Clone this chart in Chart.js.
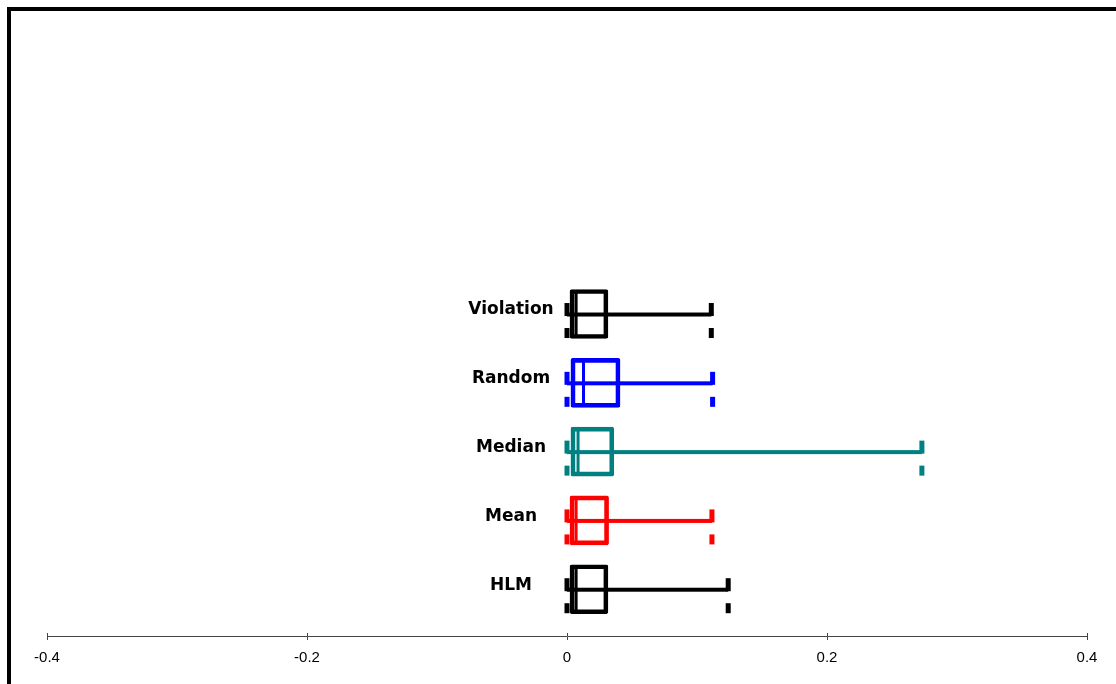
<!DOCTYPE html>
<html>
<head>
<meta charset="utf-8">
<script src="https://cdn.jsdelivr.net/npm/chart.js@4/dist/chart.umd.min.js"></script>
<style>
html,body{margin:0;padding:0;background:#fff;}
#wrap{position:relative;width:1116px;height:684px;}
</style>
</head>
<body>
<div id="wrap"><canvas id="c" width="1116" height="684"></canvas></div>
<script>
// ---- data (bottom to top) ----
const categories = ['HLM', 'Mean', 'Median', 'Random', 'Violation'];
const mins    = [0, 0, 0, 0, 0];
const q1s     = [0.0023, 0.0023, 0.003, 0.003, 0.0023];
const medians = [0.007, 0.007, 0.0085, 0.0127, 0.007];
const q3s     = [0.0315, 0.032, 0.036, 0.0408, 0.0315];
const maxs    = [0.124, 0.1115, 0.273, 0.112, 0.111];
const xTicks  = [-0.4, -0.2, 0, 0.2, 0.4];
const colors  = ['#000000', '#ff0000', '#008080', '#0000ff', '#000000'];

const boxPlugin = {
  id: 'boxExtras',
  beforeDraw(chart) {
    const ctx = chart.ctx;
    ctx.save();
    ctx.fillStyle = '#fff';
    ctx.fillRect(0, 0, chart.width, chart.height);
    ctx.fillStyle = '#000';
    ctx.fillRect(7, 7, chart.width - 7, 4);
    ctx.fillRect(7, 7, 4, chart.height - 7);
    ctx.restore();
  },
  afterDatasetsDraw(chart) {
    const ctx = chart.ctx;
    const xs = chart.scales.x, ys = chart.scales.y;
    ctx.save();
    // upper half of x tick marks
    ctx.strokeStyle = '#444';
    ctx.lineWidth = 1;
    const yb = chart.chartArea.bottom;
    xTicks.forEach(t => {
      const px = Math.round(xs.getPixelForValue(t)) + 0.5;
      ctx.beginPath(); ctx.moveTo(px, yb - 3); ctx.lineTo(px, yb); ctx.stroke();
    });
    categories.forEach((cat, i) => {
      const yc = ys.getPixelForValue(i);
      const col = colors[i];
      const xMin = xs.getPixelForValue(mins[i]);
      const xMax = xs.getPixelForValue(maxs[i]);
      const xMed = xs.getPixelForValue(medians[i]);
      // whisker
      ctx.fillStyle = col;
      ctx.fillRect(xMin, yc - 1.5, xMax - xMin, 4);
      // caps
      [xMin, xMax].forEach(cx => {
        ctx.fillRect(cx - 2.5, yc - 11, 5, 13);
        ctx.fillRect(cx - 2.5, yc + 14, 5, 10);
      });
      // median line
      const boxTop = yc - 22, boxH = 45;
      ctx.fillRect(xMed - 1.5, boxTop, 3, boxH);
      // label
      ctx.fillStyle = '#000';
      ctx.font = 'bold 17px "Comic Sans MS", "DejaVu Sans", sans-serif';
      ctx.textAlign = 'center';
      ctx.textBaseline = 'middle';
      ctx.fillText(cat, 511, yc - 4);
    });
    ctx.restore();
  }
};

new Chart(document.getElementById('c'), {
  type: 'bar',
  data: {
    datasets: [{
      data: categories.map((c, i) => ({ x: [q1s[i], q3s[i]], y: i })),
      backgroundColor: 'rgba(0,0,0,0)',
      borderColor: colors,
      borderWidth: 4,
      borderSkipped: false,
      borderRadius: 2,
      barThickness: 49
    }]
  },
  options: {
    indexAxis: 'y',
    responsive: false,
    animation: false,
    devicePixelRatio: 1,
    layout: { padding: { left: 47, right: 29, top: 12, bottom: 8 } },
    plugins: { legend: { display: false }, tooltip: { enabled: false } },
    scales: {
      x: {
        type: 'linear',
        min: -0.4, max: 0.4,
        offset: false,
        afterBuildTicks(scale) { scale.ticks = xTicks.map(v => ({ value: v })); },
        ticks: {
          padding: 9,
          color: '#000',
          font: { family: '"Liberation Sans", Arial, sans-serif', size: 15 },
          callback: v => String(v)
        },
        grid: { display: true, offset: false, drawOnChartArea: false, drawTicks: true, tickLength: 4, color: '#444' },
        border: { display: true, color: '#444', width: 1 }
      },
      y: {
        type: 'linear',
        display: false,
        offset: false,
        grid: { offset: false },
        min: -0.68, max: 8.39
      }
    }
  },
  plugins: [boxPlugin]
});
</script>
</body>
</html>
